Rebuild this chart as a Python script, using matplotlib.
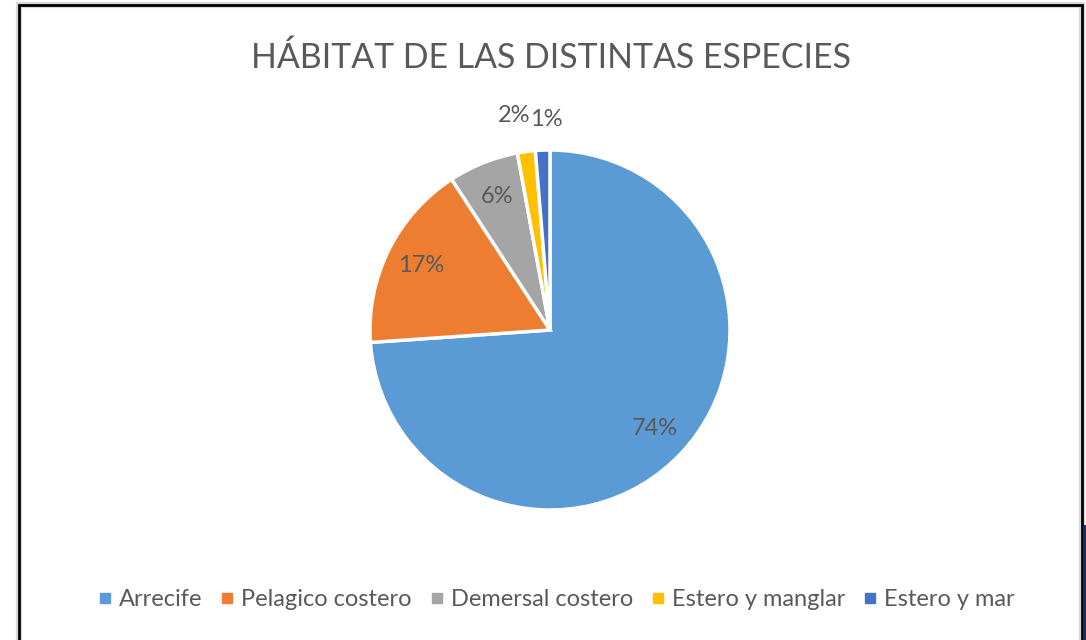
import matplotlib
matplotlib.use("Agg")
import matplotlib.pyplot as plt
from matplotlib.patches import Rectangle
from matplotlib.lines import Line2D
import numpy as np

plt.rcParams['font.family'] = ['Lato', 'DejaVu Sans']

title = "HÁBITAT DE LAS DISTINTAS ESPECIES"
categories = ["Arrecife", "Pelagico costero", "Demersal costero", "Estero y manglar", "Estero y mar"]
values = [73.9, 16.9, 6.3, 1.6, 1.3]
colors = ["#5B9BD5", "#ED7D31", "#A5A5A5", "#FFC000", "#4472C4"]
text_color = "#595959"

W, H = 1086, 640
fig = plt.figure(figsize=(W / 100, H / 100), dpi=100)

def fx(px):
    return px / W

def fy(py):
    return 1 - py / H

# frame
fig.patches.append(Rectangle((fx(19), fy(642)), fx(1082) - fx(19), fy(5) - fy(642),
                             transform=fig.transFigure, fill=False, edgecolor="#d9d9d9", lw=4.5, zorder=0))
fig.patches.append(Rectangle((fx(19), fy(642)), fx(1082) - fx(19), fy(5) - fy(642),
                             transform=fig.transFigure, fill=False, edgecolor="black", lw=2, zorder=1))
fig.patches.append(Rectangle((fx(1083), fy(640)), fx(1086) - fx(1083), fy(525) - fy(640),
                             transform=fig.transFigure, facecolor="#13286e", edgecolor="none", zorder=1))

# pie axes: center (550,330), radius 180 px
R = 180
cx, cy = 550, 330
ax = fig.add_axes([fx(cx - R), fy(cy + R), 2 * R / W, 2 * R / H])
wedges, texts, autotexts = ax.pie(
    values, colors=colors, startangle=90, counterclock=False,
    autopct=lambda p: f"{p:.0f}%", pctdistance=0.8,
    wedgeprops=dict(edgecolor="white", linewidth=2.5),
    textprops=dict(color=text_color, fontsize=17))
ax.set_xlim(-1, 1)
ax.set_ylim(-1, 1)
ax.set_aspect("equal")

# outside labels for tiny slices
offsets = {3: (-0.04, 0.0), 4: (0.03, -0.03)}
for i, (w, t) in enumerate(zip(wedges, autotexts)):
    if values[i] < 3:
        mid = np.deg2rad((w.theta1 + w.theta2) / 2)
        dx, dy = offsets.get(i, (0, 0))
        t.set_position((1.2 * np.cos(mid) + dx, 1.2 * np.sin(mid) + dy))

fig.text(fx(551), fy(58), title, ha="center", va="center", fontsize=24.4,
         color=text_color)

handles = [Line2D([], [], marker="s", linestyle="none", markersize=6.5,
                  markerfacecolor=c, markeredgecolor=c) for c in colors]
fig.legend(handles, categories, loc="center", bbox_to_anchor=(fx(557), fy(600)),
           ncol=5, frameon=False, fontsize=17, handlelength=0.5, handletextpad=0.35,
           columnspacing=0.8, labelcolor=text_color)

fig.savefig("out.png", dpi=100, facecolor="white")
